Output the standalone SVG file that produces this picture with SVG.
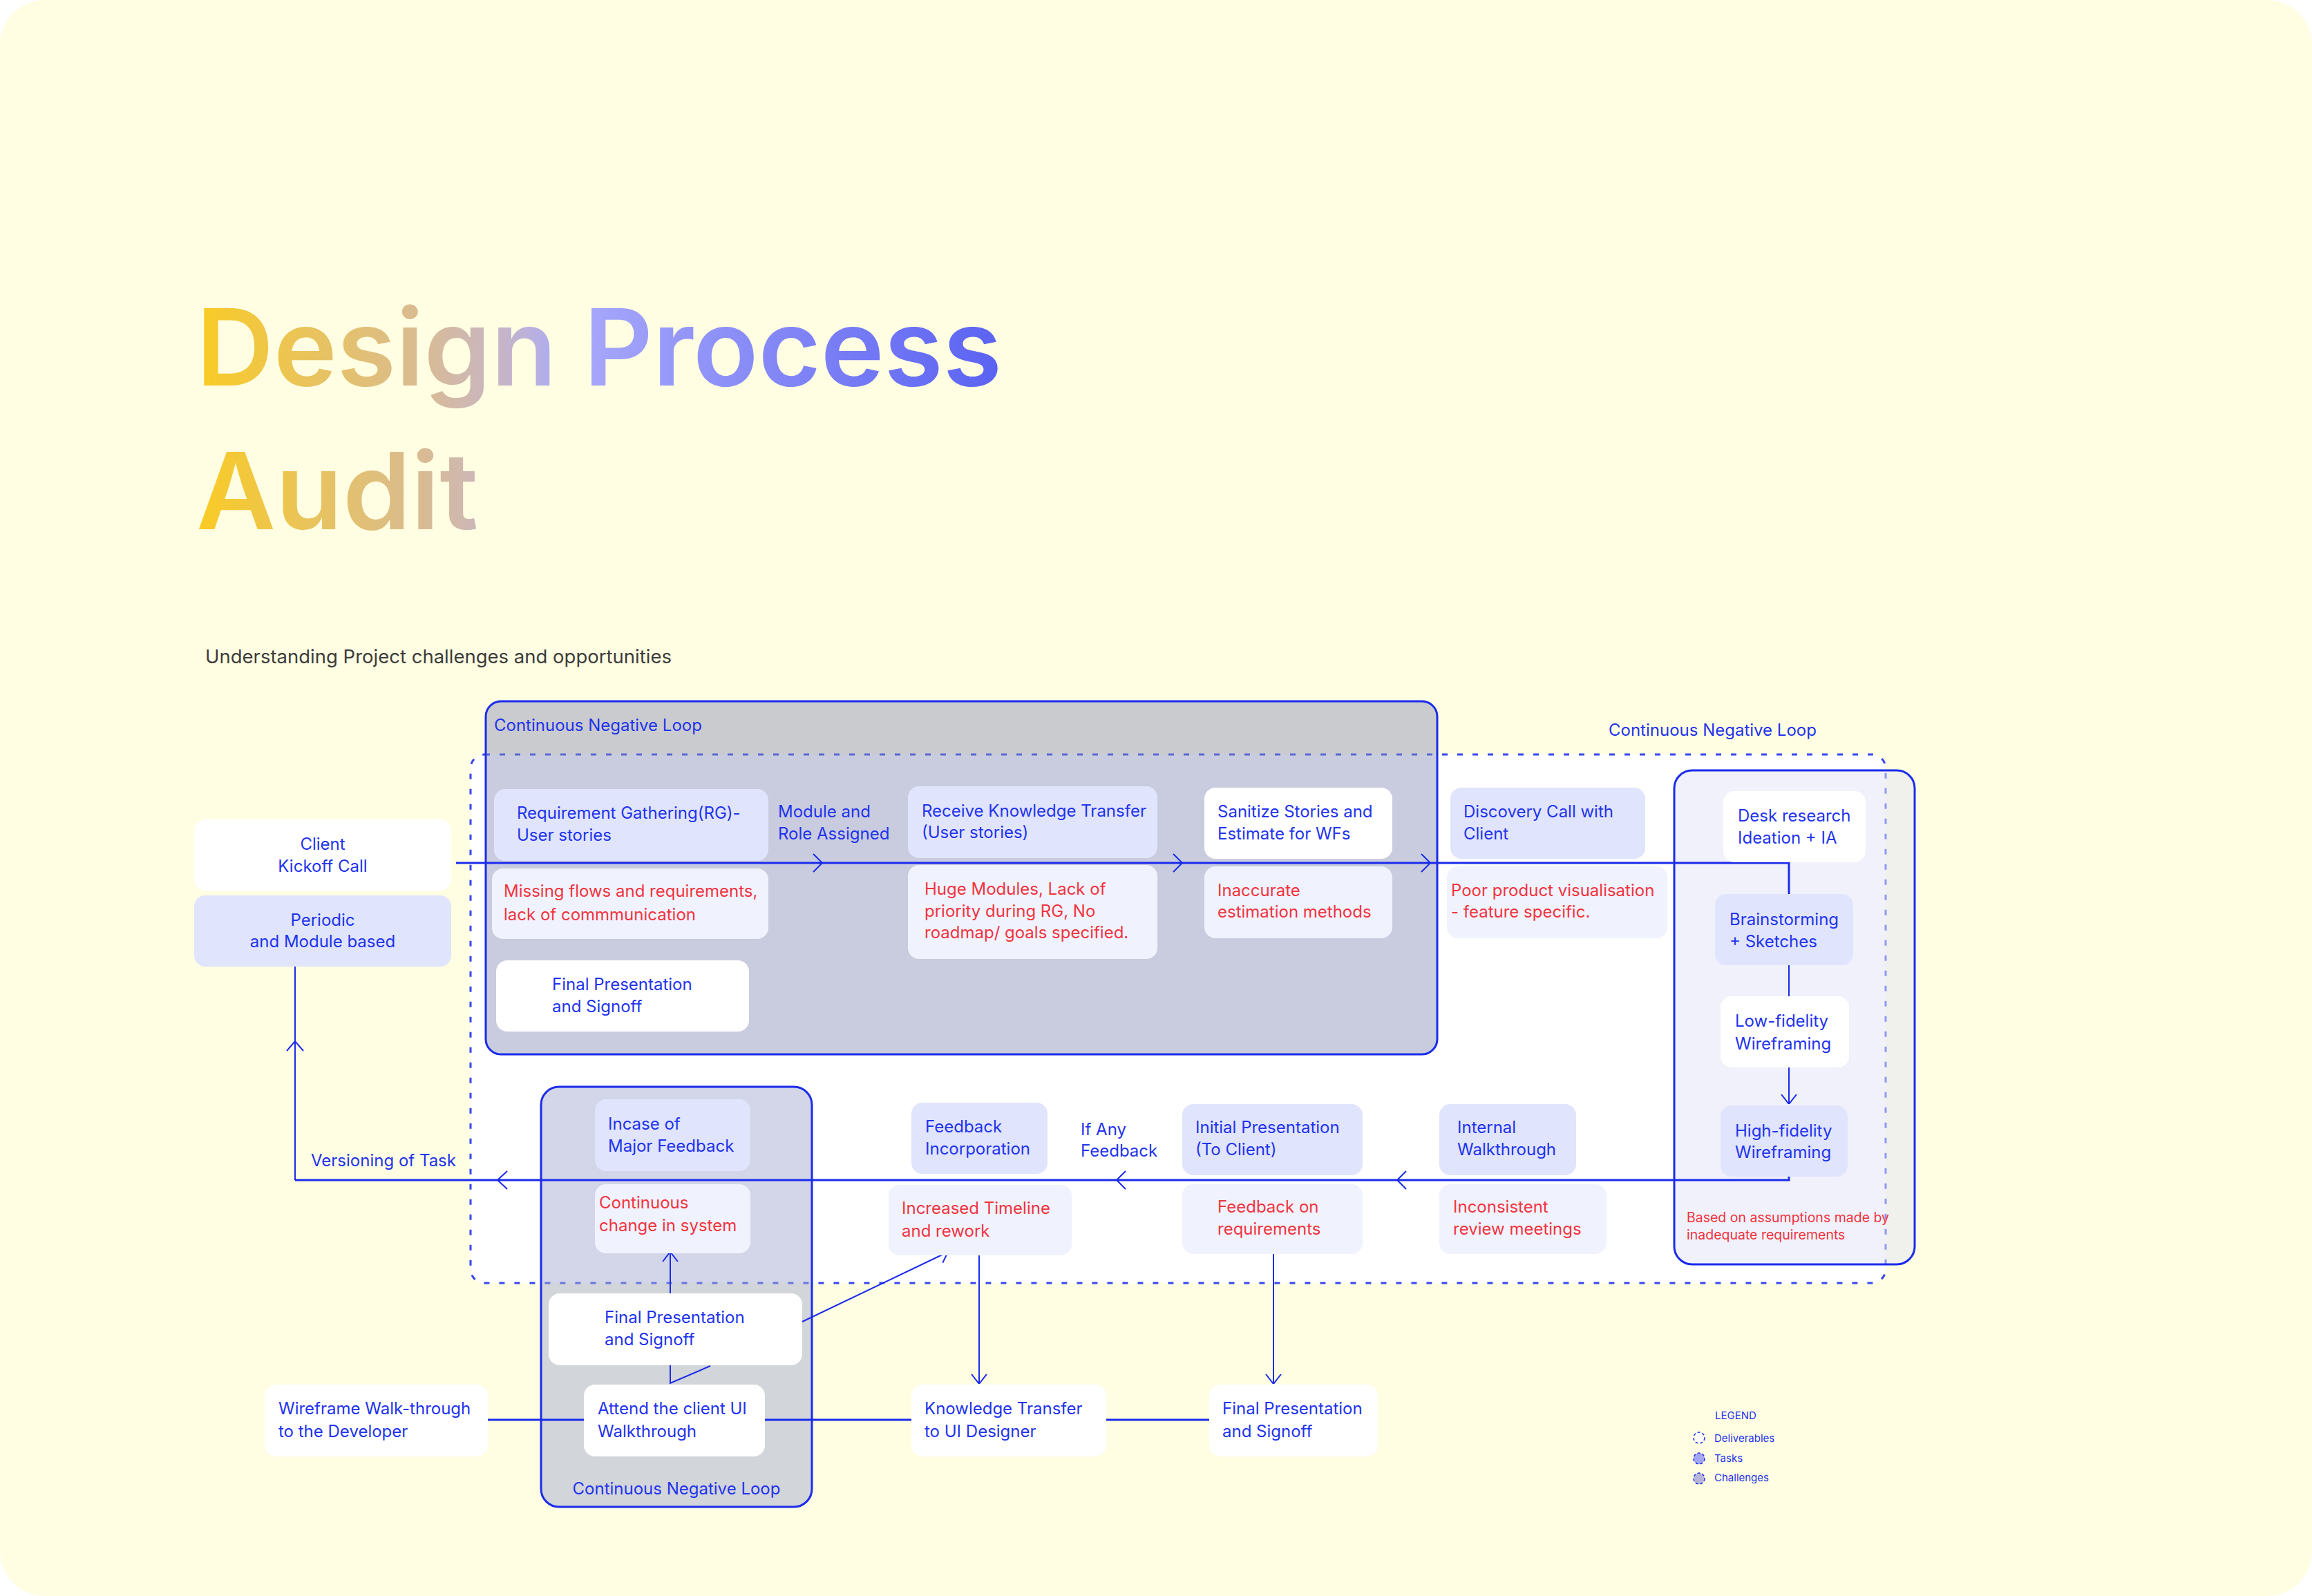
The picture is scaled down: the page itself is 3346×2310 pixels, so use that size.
<svg xmlns="http://www.w3.org/2000/svg" width="3346" height="2310" viewBox="0 0 3346 2310">
<defs>
<linearGradient id="tg" gradientUnits="userSpaceOnUse" x1="290" y1="0" x2="1450" y2="0">
<stop offset="0" stop-color="#F9CB26"/>
<stop offset="0.28" stop-color="#D8BB95"/>
<stop offset="0.37" stop-color="#C8B6C4"/>
<stop offset="0.46" stop-color="#A9AAFB"/>
<stop offset="0.72" stop-color="#8387F6"/>
<stop offset="1" stop-color="#5A62F2"/>
</linearGradient>
<marker id="ah" viewBox="0 0 14 24" refX="14" refY="12" markerWidth="14" markerHeight="24" markerUnits="userSpaceOnUse" orient="auto">
<path d="M0,1 L14,12 L0,23" fill="none" stroke="#1B2BEB" stroke-width="2"/>
</marker>
<style>
.t{font-family:Inter,"Liberation Sans",sans-serif;font-size:24px;fill:#2233EE}
.r{fill:#F0343F}
.sm{font-size:19.5px}
.lg{font-size:15px}
.w{fill:#FFFFFF}
.lv{fill:#E0E4FC}
.lt{fill:#F0F2FD}
.ln{fill:none;stroke:#1B2BEB;stroke-width:3}
.ln2{fill:none;stroke:#1B2BEB;stroke-width:2}
.c{text-anchor:middle}
</style>
</defs>
<rect x="0" y="0" width="3346" height="2310" fill="#FFFFFF"/>
<rect x="0" y="0" width="3346" height="2310" rx="65" fill="#FFFEE2"/>

<g id="title">
<text x="284" y="558" font-family="Inter,'Liberation Sans',sans-serif" font-weight="600" font-size="154" fill="url(#tg)" textLength="1166" lengthAdjust="spacingAndGlyphs">Design Process</text>
<text x="284" y="766" font-family="Inter,'Liberation Sans',sans-serif" font-weight="600" font-size="154" fill="url(#tg)" textLength="408" lengthAdjust="spacingAndGlyphs">Audit</text>
<text x="297" y="960" font-family="Inter,'Liberation Sans',sans-serif" font-size="27.5" fill="#3C3C3C">Understanding Project challenges and opportunities</text>
</g>

<g id="deliverables-area">
<rect x="681" y="1092" width="2048" height="765" rx="20" fill="#FFFFFF" stroke="#3747F0" stroke-width="3" stroke-dasharray="8 14"/>
</g>
<g id="loop-top">
<rect x="703" y="1015" width="1377" height="511" rx="22" fill="rgba(136,141,181,0.45)" stroke="#1B2BEB" stroke-width="3"/>
<text class="t" x="715" y="1058">Continuous Negative Loop</text>
</g>
<g id="loop-bottom">
<rect x="783" y="1573" width="392" height="608" rx="26" fill="rgba(160,170,207,0.48)" stroke="#1B2BEB" stroke-width="3"/>
<text class="t c" x="979" y="2163">Continuous Negative Loop</text>
</g>
<g id="loop-right">
<rect x="2423" y="1115" width="348" height="715" rx="26" fill="rgba(226,228,245,0.52)" stroke="#1B2BEB" stroke-width="3"/>
<text class="t" x="2328" y="1065">Continuous Negative Loop</text>
<text class="t r sm" x="2441" y="1769">Based on assumptions made by</text>
<text class="t r sm" x="2441" y="1794">inadequate requirements</text>
</g>

<g id="connectors">
<path class="ln" d="M660,1249 H2589 V1294"/>
<path class="ln2" d="M2589,1397 V1442"/>
<path class="ln2" d="M2589,1545 V1598" marker-end="url(#ah)"/>
<path class="ln" d="M2589,1703 V1708 H427"/>
<path class="ln2" d="M427,1708 V1399"/>
<path class="ln2" d="M1177,1236 L1190,1249 L1177,1262"/>
<path class="ln2" d="M1698,1236 L1711,1249 L1698,1262"/>
<path class="ln2" d="M2057,1236 L2070,1249 L2057,1262"/>
<path class="ln2" d="M2035,1695 L2022,1708 L2035,1721"/>
<path class="ln2" d="M1629,1695 L1616,1708 L1629,1721"/>
<path class="ln2" d="M734,1695 L720,1708 L734,1721"/>
<path class="ln2" d="M415,1521 L427,1507 L439,1521"/>
<path class="ln2" d="M970,1872 V1812" marker-end="url(#ah)"/>
<path class="ln2" d="M970,1976 V2002 L1028,1977"/>
<path class="ln2" d="M1161,1913 L1372,1812" marker-end="url(#ah)"/>
<path class="ln2" d="M1417,1817 V2003" marker-end="url(#ah)"/>
<path class="ln2" d="M1843,1815 V2003" marker-end="url(#ah)"/>
<path class="ln" d="M706,2055 H845 M1107,2055 H1319 M1601,2055 H1750"/>
</g>

<g id="kickoff"><rect class="w" x="281" y="1186" width="372" height="103" rx="16"/><text class="t c" x="467" y="1230">Client</text><text class="t c" x="467" y="1262">Kickoff Call</text></g>
<g id="periodic"><rect class="lv" x="281" y="1296" width="372" height="103" rx="16"/><text class="t c" x="467" y="1340">Periodic</text><text class="t c" x="467" y="1371">and Module based</text></g>
<g id="req-gathering"><rect class="lv" x="715" y="1142" width="397" height="104" rx="16"/><text class="t" x="748" y="1185">Requirement Gathering(RG)-</text><text class="t" x="748" y="1217">User stories</text></g>
<g id="missing-flows"><rect class="lt" x="712" y="1257" width="400" height="102" rx="16"/><text class="t r" x="729" y="1298">Missing flows and requirements,</text><text class="t r" x="729" y="1332">lack of commmunication</text></g>
<g id="module-role"><text class="t" x="1126" y="1183">Module and</text><text class="t" x="1126" y="1215">Role Assigned</text></g>
<g id="final-1"><rect class="w" x="718" y="1390" width="366" height="103" rx="16"/><text class="t" x="799" y="1433">Final Presentation</text><text class="t" x="799" y="1465">and Signoff</text></g>
<g id="receive-kt"><rect class="lv" x="1314" y="1138" width="361" height="104" rx="16"/><text class="t" x="1334" y="1182">Receive Knowledge Transfer</text><text class="t" x="1334" y="1213">(User stories)</text></g>
<g id="huge-modules"><rect class="lt" x="1314" y="1252" width="361" height="136" rx="16"/><text class="t r" x="1338" y="1295">Huge Modules, Lack of</text><text class="t r" x="1338" y="1327">priority during RG, No</text><text class="t r" x="1338" y="1358">roadmap/ goals specified.</text></g>
<g id="sanitize"><rect class="w" x="1743" y="1140" width="272" height="103" rx="16"/><text class="t" x="1762" y="1183">Sanitize Stories and</text><text class="t" x="1762" y="1215">Estimate for WFs</text></g>
<g id="inaccurate"><rect class="lt" x="1743" y="1254" width="272" height="104" rx="16"/><text class="t r" x="1762" y="1297">Inaccurate</text><text class="t r" x="1762" y="1328">estimation methods</text></g>
<g id="discovery"><rect class="lv" x="2099" y="1140" width="282" height="103" rx="16"/><text class="t" x="2118" y="1183">Discovery Call with</text><text class="t" x="2118" y="1215">Client</text></g>
<g id="poor-visual"><rect class="lt" x="2094" y="1254" width="319" height="104" rx="16"/><text class="t r" x="2100" y="1297">Poor product visualisation</text><text class="t r" x="2100" y="1328">- feature specific.</text></g>
<g id="desk-research"><rect class="w" x="2494" y="1145" width="206" height="103" rx="16"/><text class="t" x="2515" y="1189">Desk research</text><text class="t" x="2515" y="1221">Ideation + IA</text></g>
<g id="brainstorming"><rect class="lv" x="2482" y="1294" width="200" height="103" rx="16"/><text class="t" x="2503" y="1339">Brainstorming</text><text class="t" x="2503" y="1371">+ Sketches</text></g>
<g id="low-fi"><rect class="w" x="2490" y="1442" width="186" height="103" rx="16"/><text class="t" x="2511" y="1486">Low-fidelity</text><text class="t" x="2511" y="1519">Wireframing</text></g>
<g id="high-fi"><rect class="lv" x="2490" y="1600" width="184" height="103" rx="16"/><text class="t" x="2511" y="1645">High-fidelity</text><text class="t" x="2511" y="1676">Wireframing</text></g>
<g id="incase"><rect class="lv" x="861" y="1591" width="225" height="104" rx="16"/><text class="t" x="880" y="1635">Incase of</text><text class="t" x="880" y="1667">Major Feedback</text></g>
<g id="continuous-change"><rect class="lt" x="861" y="1714" width="225" height="100" rx="16"/><text class="t r" x="867" y="1749">Continuous</text><text class="t r" x="867" y="1782">change in system</text></g>
<g id="final-2"><rect class="w" x="794" y="1872" width="367" height="104" rx="16"/><text class="t" x="875" y="1915">Final Presentation</text><text class="t" x="875" y="1947">and Signoff</text></g>
<g id="attend"><rect class="w" x="845" y="2004" width="262" height="104" rx="16"/><text class="t" x="865" y="2047">Attend the client UI</text><text class="t" x="865" y="2080">Walkthrough</text></g>
<g id="wireframe-walk"><rect class="w" x="383" y="2004" width="323" height="104" rx="16"/><text class="t" x="403" y="2047">Wireframe Walk-through</text><text class="t" x="403" y="2080">to the Developer</text></g>
<g id="versioning"><text class="t" x="450" y="1688">Versioning of Task</text></g>
<g id="feedback-inc"><rect class="lv" x="1319" y="1596" width="197" height="103" rx="16"/><text class="t" x="1339" y="1639">Feedback</text><text class="t" x="1339" y="1671">Incorporation</text></g>
<g id="if-any"><text class="t" x="1564" y="1643">If Any</text><text class="t" x="1564" y="1674">Feedback</text></g>
<g id="initial-pres"><rect class="lv" x="1711" y="1598" width="261" height="103" rx="16"/><text class="t" x="1730" y="1640">Initial Presentation</text><text class="t" x="1730" y="1672">(To Client)</text></g>
<g id="internal-walk"><rect class="lv" x="2083" y="1598" width="198" height="103" rx="16"/><text class="t" x="2109" y="1640">Internal</text><text class="t" x="2109" y="1672">Walkthrough</text></g>
<g id="increased-timeline"><rect class="lt" x="1286" y="1715" width="265" height="102" rx="16"/><text class="t r" x="1305" y="1757">Increased Timeline</text><text class="t r" x="1305" y="1790">and rework</text></g>
<g id="feedback-req"><rect class="lt" x="1711" y="1714" width="261" height="101" rx="16"/><text class="t r" x="1762" y="1755">Feedback on</text><text class="t r" x="1762" y="1787">requirements</text></g>
<g id="inconsistent"><rect class="lt" x="2083" y="1714" width="242" height="101" rx="16"/><text class="t r" x="2103" y="1755">Inconsistent</text><text class="t r" x="2103" y="1787">review meetings</text></g>
<g id="kt-ui"><rect class="w" x="1319" y="2004" width="282" height="104" rx="16"/><text class="t" x="1338" y="2047">Knowledge Transfer</text><text class="t" x="1338" y="2080">to UI Designer</text></g>
<g id="final-3"><rect class="w" x="1750" y="2004" width="244" height="104" rx="16"/><text class="t" x="1769" y="2047">Final Presentation</text><text class="t" x="1769" y="2080">and Signoff</text></g>

<g id="legend">
<text class="t lg" x="2482" y="2054">LEGEND</text>
<circle cx="2459" cy="2081" r="8" fill="#FFFFFF" stroke="#1B2BEB" stroke-width="1.5" stroke-dasharray="4 3"/>
<text class="t lg" x="2481" y="2087">Deliverables</text>
<circle cx="2459" cy="2111" r="8" fill="#A4A6F8" stroke="#1B2BEB" stroke-width="1.5" stroke-dasharray="4 3"/>
<text class="t lg" x="2481" y="2116">Tasks</text>
<circle cx="2459" cy="2140" r="8" fill="#B8B6D8" stroke="#1B2BEB" stroke-width="1.5" stroke-dasharray="4 3"/>
<text class="t lg" x="2481" y="2144">Challenges</text>
</g>
</svg>
